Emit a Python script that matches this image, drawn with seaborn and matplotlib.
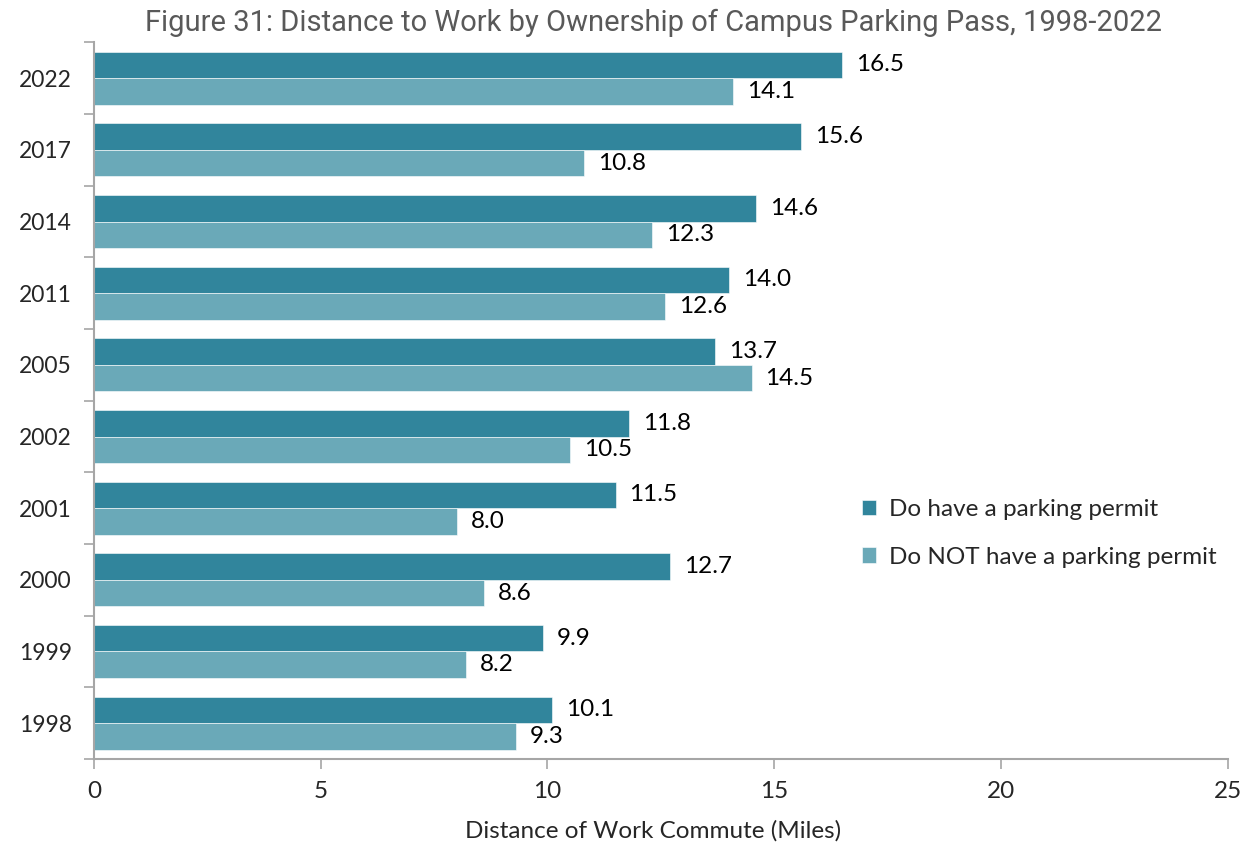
import matplotlib
matplotlib.use("Agg")
import matplotlib.pyplot as plt
import seaborn as sns
import pandas as pd

years = ["2022", "2017", "2014", "2011", "2005", "2002", "2001", "2000", "1999", "1998"]
have_permit = [16.5, 15.6, 14.6, 14.0, 13.7, 11.8, 11.5, 12.7, 9.9, 10.1]
no_permit = [14.1, 10.8, 12.3, 12.6, 14.5, 10.5, 8.0, 8.6, 8.2, 9.3]
series_names = ["Do have a parking permit", "Do NOT have a parking permit"]
colors = ["#31859C", "#6AA9B8"]
x_ticks = [0, 5, 10, 15, 20, 25]

df = pd.DataFrame({
    "Year": years * 2,
    "Miles": have_permit + no_permit,
    "Series": [series_names[0]] * len(years) + [series_names[1]] * len(years),
})

sns.set_theme(style="white")
plt.rcParams["font.family"] = ["Lato", "DejaVu Sans"]

FS = 17.5

fig = plt.figure(figsize=(12.54, 8.48), dpi=100)
ax = fig.add_axes([0.075, 0.105, 0.904, 0.845])

sns.barplot(data=df, y="Year", x="Miles", hue="Series", order=years,
            hue_order=series_names, palette=colors, orient="h", width=0.74,
            saturation=1, edgecolor="white", linewidth=0.4, ax=ax)

for cont in ax.containers:
    ax.bar_label(cont, fmt="%.1f", padding=10, fontsize=FS, color="black")

ax.set_xlim(0, 25)
ax.set_ylim(len(years) - 0.5, -0.5)
ax.set_xticks(x_ticks)
ax.set_xticklabels([str(t) for t in x_ticks], fontsize=FS)
ax.set_xlabel("Distance of Work Commute (Miles)", fontsize=FS, labelpad=14)
ax.xaxis.set_label_coords(0.493, -0.085)
ax.set_ylabel("")
ax.set_yticks(range(len(years)))
ax.set_yticklabels(years, fontsize=16.5)
ax.set_yticks([i + 0.5 for i in range(-1, len(years))], minor=True)
ax.tick_params(axis="y", which="major", left=True, length=0, pad=16)
ax.tick_params(axis="y", which="minor", left=True, length=7, width=1.2,
               color="#A6A6A6", direction="out")
ax.tick_params(axis="x", which="major", bottom=True, length=7, width=1.2,
               color="#A6A6A6", direction="out", pad=9)

for s in ["top", "right"]:
    ax.spines[s].set_visible(False)
for s in ["left", "bottom"]:
    ax.spines[s].set_color("#A6A6A6")
    ax.spines[s].set_linewidth(1.5)

leg = ax.legend(loc="center left", bbox_to_anchor=(0.658, 0.315), frameon=False,
                fontsize=FS, handlelength=0.6, handleheight=0.6, labelspacing=1.1,
                handletextpad=0.5)

fig.text(0.521, 0.973, "Figure 31: Distance to Work by Ownership of Campus Parking Pass, 1998-2022",
         ha="center", va="center", fontsize=21, color="#595959", family=["Roboto", "DejaVu Sans"])

fig.savefig("out.png", dpi=100)
